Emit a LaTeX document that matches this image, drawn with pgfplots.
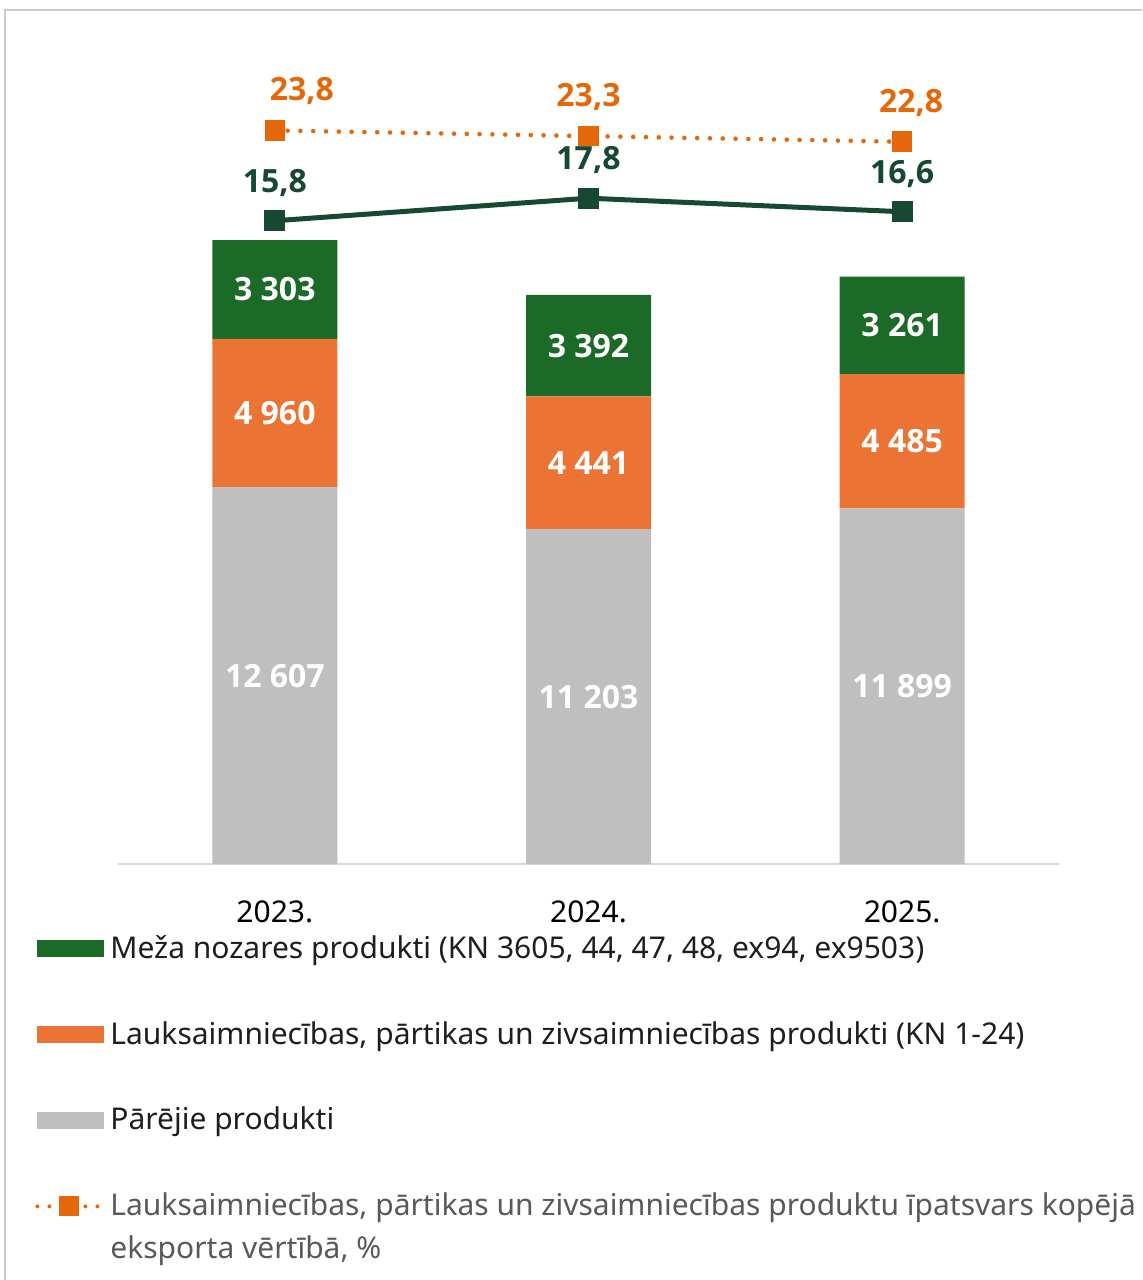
\documentclass[border=0pt]{standalone}
\usepackage{pgfplots}
\usepackage{pgfplotstable}
\pgfplotsset{compat=1.18}
\usepackage{fontspec}
\setmainfont{Noto Sans}
\newfontfamily\labfam{Open Sans}

\definecolor{forest}{RGB}{27,106,39}
\definecolor{agri}{RGB}{235,116,52}
\definecolor{other}{RGB}{191,191,191}
\definecolor{lineor}{RGB}{228,104,10}
\definecolor{linegr}{RGB}{23,72,50}
\definecolor{framec}{RGB}{197,206,201}
\definecolor{axisgray}{RGB}{217,217,217}
\definecolor{legtext}{RGB}{30,30,30}
\definecolor{leggray}{RGB}{89,89,89}

\pgfplotstableread{
x grey agri forest
0 12607 4960 3303
1 11203 4441 3392
2 11899 4485 3261
}\bars

\pgfplotstableread{
x agrishare dx forestshare
0 23.8 13.5 15.8
1 23.3 0 17.8
2 22.8 4.5 16.6
}\shares

\newcommand{\labfont}{\labfam\bfseries\fontsize{16pt}{19pt}\selectfont}

\pgfplotsset{
  barleg/.style={legend image code/.code={\fill[##1] (0pt,-4.25pt) rectangle (33.5pt,4.25pt);}},
  lineleg/.style={legend image code/.code={%
    \draw[##1, mark=none] (0pt,10.5pt) -- (32pt,10.5pt);
    \begin{scope}[##1, solid, shift={(16pt,10.5pt)}]\pgfuseplotmark{square*}\end{scope}}},
}

\begin{document}
\begin{tikzpicture}
\path[use as bounding box] (0,0) rectangle (571pt,-640pt);
\draw[framec, line width=1pt] (2.5pt,-640pt) -- (2.5pt,-5pt) -- (571pt,-5pt);

\begin{axis}[
  at={(59pt,-432pt)}, anchor=south west,
  scale only axis, width=470.5pt, height=402pt,
  ybar stacked, bar width=62.5pt,
  xmin=-0.5, xmax=2.5, ymin=0, ymax=26894,
  axis y line=none, axis x line=bottom,
  axis line style={-, axisgray, line width=1pt},
  xtick={0,1,2}, xticklabels={2023.,2024.,2025.},
  xtick style={draw=none}, ytick=\empty,
  xticklabel style={font=\fontsize{15pt}{18pt}\selectfont, text=black, yshift=-12.5pt},
  point meta=explicit,
  nodes near coords={\pgfmathprintnumber[1000 sep={\ }, assume math mode=true]{\pgfplotspointmeta}},
  every node near coord/.append style={font=\labfont, text=white, anchor=center},
  reverse legend,
  legend cell align=left,
  legend style={at={(axis description cs:0,0)}, xshift=-41.5pt, yshift=-33.5pt,
    anchor=north west, draw=none, fill=none, inner sep=0pt, row sep=26pt, column sep=1pt,
    font=\fontsize{15pt}{18pt}\selectfont, text=legtext,
    nodes={inner sep=2pt, align=left}},
  clip=false,
]
\addlegendimage{lineor, line width=2pt, dash pattern=on 0pt off 6pt, line cap=round,
  mark=square*, mark size=4pt, lineleg}
\addlegendentry[text=leggray]{Lauksaimniecības, pārtikas un zivsaimniecības produktu īpatsvars kopējā\\[3.5pt]eksporta vērtībā, \%}

\addplot[fill=other, draw=none, barleg] table[x=x, y=grey, meta=grey] {\bars};
\addlegendentry{Pārējie produkti}

\addplot[fill=agri, draw=none, barleg] table[x=x, y=agri, meta=agri] {\bars};
\addlegendentry{Lauksaimniecības, pārtikas un zivsaimniecības produkti (KN 1-24)}

\addplot[fill=forest, draw=none, barleg] table[x=x, y=forest, meta=forest] {\bars};
\addlegendentry{Meža nozares produkti (KN 3605, 44, 47, 48, ex94, ex9503)}
\end{axis}

\begin{axis}[
  at={(59pt,-432pt)}, anchor=south west,
  scale only axis, width=470.5pt, height=402pt,
  xmin=-0.5, xmax=2.5, ymin=-41.17, ymax=30.04,
  hide axis, clip=false,
  point meta=explicit,
  nodes near coords={\pgfmathprintnumber[fixed, fixed zerofill, precision=1, dec sep={,}, assume math mode=true]{\pgfplotspointmeta}},
]
\addplot[linegr, line width=2.5pt, mark=square*, mark size=4pt,
  every node near coord/.append style={font=\labfont, text=linegr, anchor=center, yshift=19pt}]
  table[x=x, y=forestshare, meta=forestshare] {\shares};

\addplot[lineor, line width=2.3pt, dash pattern=on 0pt off 6.4pt, line cap=round,
  mark=square*, mark size=4pt, mark options={solid},
  visualization depends on={\thisrow{dx} \as \dx},
  every node near coord/.append style={font=\labfont, text=lineor, anchor=center, yshift=19.5pt, xshift=\dx pt}]
  table[x=x, y=agrishare, meta=agrishare] {\shares};
\end{axis}
\end{tikzpicture}
\end{document}
